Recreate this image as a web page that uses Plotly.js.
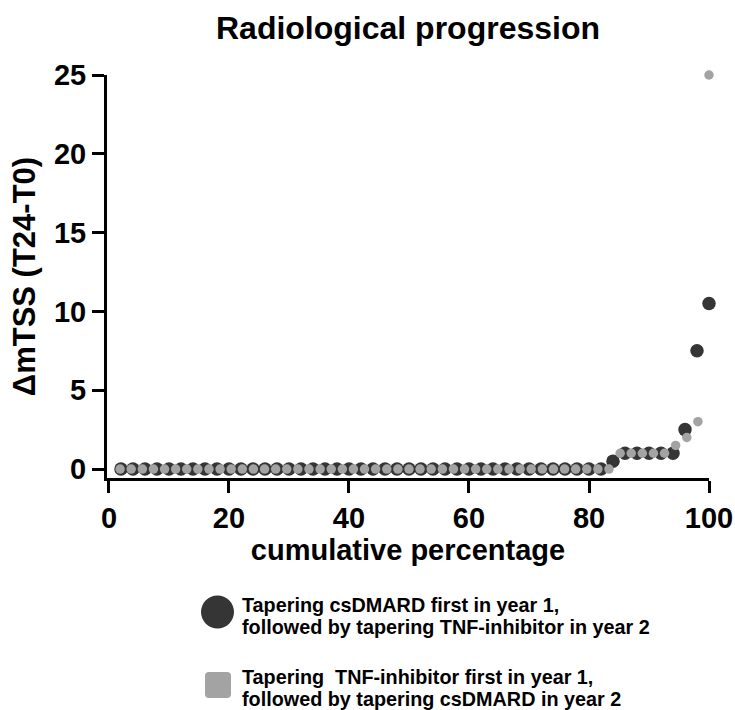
<!DOCTYPE html>
<html>
<head>
<meta charset="utf-8">
<script src="https://cdn.plot.ly/plotly-3.0.1.min.js"></script>
<style>
  html, body { margin: 0; padding: 0; background: #ffffff; }
  #chart { width: 735px; height: 710px; }
</style>
</head>
<body>
<div id="chart"></div>
<script>
// Change in modified Total Sharp Score between T0 and T24, ranked per patient.

// Arm 1: tapering csDMARD first (year 1), then TNF-inhibitor (year 2)
const csdmardFirstPct = [
  2, 4, 6, 8, 10, 12, 14, 16, 18, 20,
  22, 24, 26, 28, 30, 32, 34, 36, 38, 40,
  42, 44, 46, 48, 50, 52, 54, 56, 58, 60,
  62, 64, 66, 68, 70, 72, 74, 76, 78, 80,
  82, 84, 86, 88, 90, 92, 94, 96, 98, 100
];
const csdmardFirstChange = [
  0, 0, 0, 0, 0, 0, 0, 0, 0, 0,
  0, 0, 0, 0, 0, 0, 0, 0, 0, 0,
  0, 0, 0, 0, 0, 0, 0, 0, 0, 0,
  0, 0, 0, 0, 0, 0, 0, 0, 0, 0,
  0, 0.5, 1, 1, 1, 1, 1, 2.5, 7.5, 10.5
];

// Arm 2: tapering TNF-inhibitor first (year 1), then csDMARD (year 2)
const tnfFirstPct = [
  1.85, 3.70, 5.56, 7.41, 9.26, 11.11, 12.96, 14.81, 16.67, 18.52,
  20.37, 22.22, 24.07, 25.93, 27.78, 29.63, 31.48, 33.33, 35.19, 37.04,
  38.89, 40.74, 42.59, 44.44, 46.30, 48.15, 50.00, 51.85, 53.70, 55.56,
  57.41, 59.26, 61.11, 62.96, 64.81, 66.67, 68.52, 70.37, 72.22, 74.07,
  75.93, 77.78, 79.63, 81.48, 83.33, 85.19, 87.04, 88.89, 90.74, 92.59,
  94.44, 96.30, 98.15, 100.00
];
const tnfFirstChange = [
  0, 0, 0, 0, 0, 0, 0, 0, 0, 0,
  0, 0, 0, 0, 0, 0, 0, 0, 0, 0,
  0, 0, 0, 0, 0, 0, 0, 0, 0, 0,
  0, 0, 0, 0, 0, 0, 0, 0, 0, 0,
  0, 0, 0, 0, 0, 1, 1, 1, 1, 1,
  1.5, 2, 3, 25
];

const xTickVals = [0, 20, 40, 60, 80, 100];
const yTickVals = [0, 5, 10, 15, 20, 25];

const legendLines = [
  ['Tapering csDMARD first in year 1,', 'followed by tapering TNF-inhibitor in year 2'],
  ['Tapering  TNF-inhibitor first in year 1,', 'followed by tapering csDMARD in year 2']
];

const FONT = 'Liberation Sans, Arial, Helvetica, sans-serif';
const DARK = '#353535';
const GREY = '#a3a3a3';

const traces = [
  {
    type: 'scatter', mode: 'markers',
    x: csdmardFirstPct, y: csdmardFirstChange,
    name: legendLines[0].join(' '),
    marker: { color: DARK, size: 13.5, line: { width: 0 } },
    cliponaxis: false, hoverinfo: 'x+y'
  },
  {
    type: 'scatter', mode: 'markers',
    x: tnfFirstPct, y: tnfFirstChange,
    name: legendLines[1].join(' '),
    marker: { color: GREY, size: 9.5, line: { width: 0 } },
    cliponaxis: false, hoverinfo: 'x+y'
  }
];

// Hand-drawn legend below the axes: big swatches with two-line labels
const W = 602, H = 403, L = 107, T = 75;
const px2x = p => (p - L) / W;
const px2y = p => (T + H - p) / H;

const r = 4, h = 13;
const roundedSquare =
  `M ${-h + r},${-h} L ${h - r},${-h} Q ${h},${-h} ${h},${-h + r} ` +
  `L ${h},${h - r} Q ${h},${h} ${h - r},${h} L ${-h + r},${h} ` +
  `Q ${-h},${h} ${-h},${h - r} L ${-h},${-h + r} Q ${-h},${-h} ${-h + r},${-h} Z`;

const shapes = [
  {
    type: 'circle', xref: 'paper', yref: 'paper',
    xsizemode: 'pixel', ysizemode: 'pixel',
    xanchor: px2x(217.5), yanchor: px2y(612),
    x0: -16.5, x1: 16.5, y0: -16.5, y1: 16.5,
    fillcolor: DARK, line: { width: 0 }
  },
  {
    type: 'path', xref: 'paper', yref: 'paper',
    xsizemode: 'pixel', ysizemode: 'pixel',
    xanchor: px2x(218), yanchor: px2y(685),
    path: roundedSquare,
    fillcolor: GREY, line: { width: 0 }
  }
];

const lineCentres = [[605, 627], [677, 699]];
const annotations = [];
legendLines.forEach((lines, i) => {
  lines.forEach((txt, j) => {
    annotations.push({
      text: txt, showarrow: false,
      xref: 'paper', yref: 'paper',
      x: px2x(240), y: px2y(lineCentres[i][j]),
      xanchor: 'left', yanchor: 'middle',
      font: { family: FONT, size: 19.8, weight: 'bold', color: '#000' }
    });
  });
});

const layout = {
  width: 735, height: 710,
  margin: { l: L, r: 735 - L - W, t: T, b: 710 - T - H },
  paper_bgcolor: '#ffffff', plot_bgcolor: '#ffffff',
  showlegend: false,
  title: {
    text: 'Radiological progression',
    font: { family: FONT, size: 32, weight: 'bold', color: '#000' },
    x: 0.5, xref: 'paper', xanchor: 'center',
    y: 1 - 28 / 710, yref: 'container', yanchor: 'middle'
  },
  xaxis: {
    range: [-0.33, 100],
    tickvals: xTickVals, ticktext: xTickVals.map(String),
    ticks: 'outside', ticklen: 12, tickwidth: 3, tickcolor: '#000',
    showline: true, linewidth: 3, linecolor: '#000',
    showgrid: false, zeroline: false,
    tickfont: { family: FONT, size: 29, weight: 'bold', color: '#000' },
    title: {
      text: 'cumulative percentage', standoff: 7,
      font: { family: FONT, size: 29, weight: 'bold', color: '#000' }
    },
    automargin: false
  },
  yaxis: {
    range: [-0.57, 25],
    tickvals: yTickVals, ticktext: yTickVals.map(String),
    ticks: 'outside', ticklen: 12, tickwidth: 3, tickcolor: '#000',
    showline: true, linewidth: 3, linecolor: '#000',
    showgrid: false, zeroline: false,
    tickfont: { family: FONT, size: 29, weight: 'bold', color: '#000' },
    title: {
      text: 'ΔmTSS (T24-T0)', standoff: 10,
      font: { family: FONT, size: 31, weight: 'bold', color: '#000' }
    },
    automargin: false
  },
  shapes: shapes,
  annotations: annotations
};

Plotly.newPlot('chart', traces, layout, { displayModeBar: false, staticPlot: true });
</script>
</body>
</html>
